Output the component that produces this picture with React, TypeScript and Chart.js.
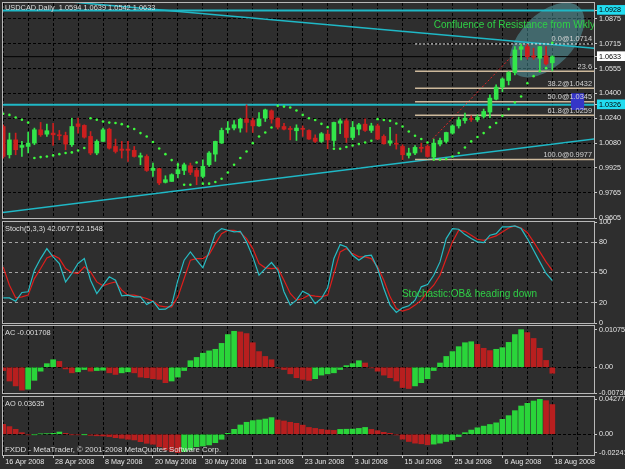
import React, { useEffect, useRef } from 'react';
import { Chart, registerables } from 'chart.js';

Chart.register(...registerables);

const W = 625;
const H = 469;

// ---------------- data ----------------
const DATE_LABELS = ['16 Apr 2008', '28 Apr 2008', '8 May 2008', '20 May 2008', '30 May 2008', '11 Jun 2008', '23 Jun 2008', '3 Jul 2008', '15 Jul 2008', '25 Jul 2008', '6 Aug 2008', '18 Aug 2008'];
const BARS_PER_DATE_LABEL = 8;
const BARS_PER_GRID = 4;

const OPEN = [1.0188, 1.0008, 1.0103, 1.0055, 1.0061, 1.0082, 1.0167, 1.0139, 1.0146, 1.0135,
  1.0131, 1.0072, 1.0205, 1.0195, 1.0125, 1.0019, 1.0093, 1.0171, 1.0061, 1.0044,
  1.0044, 1.0036, 0.9993, 0.9997, 0.9908, 0.9919, 0.9832, 0.9838, 0.9887, 0.9908,
  0.9938, 0.9908, 0.9870, 0.9944, 1.0012, 1.0082, 1.0167, 1.0178, 1.0178, 1.0237,
  1.0226, 1.0192, 1.0241, 1.0288, 1.0241, 1.0188, 1.0173, 1.0161, 1.0173, 1.0163,
  1.0114, 1.0093, 1.0139, 1.0099, 1.0209, 1.0224, 1.0118, 1.0171, 1.0203, 1.0163,
  1.0192, 1.0125, 1.0082, 1.0078, 1.0061, 1.0004, 1.0019, 1.0052, 1.0061, 0.9993,
  1.0076, 1.0093, 1.0146, 1.0192, 1.0226, 1.0237, 1.0231, 1.0252, 1.0280, 1.0362,
  1.0439, 1.0481, 1.0532, 1.0680, 1.0697, 1.0638, 1.0623, 1.0638, 1.0594];
const HIGH = [1.0199, 1.0146, 1.0146, 1.0093, 1.0152, 1.0178, 1.0214, 1.0203, 1.0209, 1.0163,
  1.0152, 1.0241, 1.0241, 1.0199, 1.0156, 1.0103, 1.0178, 1.0178, 1.0108, 1.0093,
  1.0093, 1.0061, 1.0019, 1.0008, 0.9955, 0.9923, 0.9874, 0.9887, 0.9955, 0.9955,
  0.9955, 0.9923, 0.9976, 1.0029, 1.0095, 1.0178, 1.0220, 1.0226, 1.0241, 1.0326,
  1.0241, 1.0277, 1.0299, 1.0294, 1.0243, 1.0209, 1.0188, 1.0199, 1.0192, 1.0167,
  1.0135, 1.0150, 1.0167, 1.0216, 1.0237, 1.0237, 1.0220, 1.0209, 1.0237, 1.0209,
  1.0205, 1.0135, 1.0182, 1.0139, 1.0072, 1.0050, 1.0067, 1.0082, 1.0072, 1.0108,
  1.0114, 1.0152, 1.0199, 1.0248, 1.0273, 1.0256, 1.0262, 1.0299, 1.0390, 1.0453,
  1.0498, 1.0538, 1.0697, 1.0714, 1.0712, 1.0687, 1.0699, 1.0697, 1.0639];
const LOW = [0.9987, 0.9987, 1.0008, 0.9997, 1.0019, 1.0072, 1.0125, 1.0125, 1.0067, 1.0103,
  1.0040, 1.0061, 1.0146, 1.0114, 1.0008, 1.0008, 1.0093, 1.0044, 1.0019, 0.9987,
  0.9966, 0.9993, 0.9944, 0.9902, 0.9870, 0.9817, 0.9828, 0.9838, 0.9860, 0.9881,
  0.9881, 0.9817, 0.9860, 0.9934, 0.9966, 1.0080, 1.0146, 1.0167, 1.0152, 1.0152,
  1.0150, 1.0188, 1.0220, 1.0209, 1.0171, 1.0167, 1.0103, 1.0099, 1.0125, 1.0106,
  1.0086, 1.0086, 1.0046, 1.0061, 1.0142, 1.0086, 1.0103, 1.0135, 1.0156, 1.0150,
  1.0103, 1.0076, 1.0067, 1.0044, 0.9977, 0.9987, 1.0008, 1.0025, 0.9993, 0.9980,
  1.0065, 1.0082, 1.0139, 1.0178, 1.0209, 1.0220, 1.0220, 1.0241, 1.0243, 1.0358,
  1.0410, 1.0453, 1.0517, 1.0612, 1.0617, 1.0617, 1.0549, 1.0581, 1.0542];
const CLOSE = [0.9997, 1.0103, 1.0040, 1.0067, 1.0082, 1.0167, 1.0135, 1.0161, 1.0135, 1.0129,
  1.0076, 1.0188, 1.0188, 1.0120, 1.0019, 1.0093, 1.0167, 1.0050, 1.0029, 1.0036,
  1.0036, 0.9997, 1.0002, 0.9908, 0.9923, 0.9828, 0.9849, 0.9881, 0.9913, 0.9944,
  0.9896, 0.9870, 0.9934, 1.0019, 1.0093, 1.0163, 1.0178, 1.0199, 1.0235, 1.0214,
  1.0192, 1.0237, 1.0294, 1.0235, 1.0184, 1.0171, 1.0169, 1.0178, 1.0170, 1.0108,
  1.0093, 1.0142, 1.0103, 1.0214, 1.0224, 1.0118, 1.0182, 1.0199, 1.0163, 1.0192,
  1.0108, 1.0078, 1.0097, 1.0075, 1.0008, 1.0019, 1.0055, 1.0049, 0.9997, 1.0082,
  1.0099, 1.0150, 1.0192, 1.0231, 1.0241, 1.0233, 1.0248, 1.0284, 1.0369, 1.0439,
  1.0491, 1.0532, 1.0676, 1.0697, 1.0633, 1.0630, 1.0697, 1.0587, 1.0633];
const SAR = [1.0269, 1.0262, 1.0245, 1.0231, 1.0213, 0.9987, 0.9993, 0.9997, 1.0004, 1.0012,
  1.0019, 1.0023, 1.0035, 1.0051, 1.0241, 1.0231, 1.0220, 1.0213, 1.0210, 1.0203,
  1.0188, 1.0172, 1.0146, 1.0124, 1.0089, 1.0048, 1.0012, 0.9974, 0.9944, 0.9817,
  0.9817, 0.9959, 0.9824, 0.9824, 0.9834, 0.9855, 0.9895, 0.9944, 0.9987, 1.0029,
  1.0082, 1.0124, 1.0150, 1.0182, 1.0320, 1.0315, 1.0309, 1.0290, 1.0262, 1.0241,
  1.0229, 1.0205, 1.0184, 1.0046, 1.0046, 1.0057, 1.0067, 1.0076, 1.0086, 1.0097,
  1.0235, 1.0229, 1.0224, 1.0207, 1.0188, 1.0156, 1.0129, 1.0108, 1.0086, 0.9977,
  0.9977, 0.9981, 0.9997, 1.0019, 1.0054, 1.0093, 1.0121, 1.0146, 1.0184, 1.0210,
  1.0256, 1.0299, 1.0341, 1.0379, 1.0464, 1.0509, 1.0540, 1.0560, 1.0722];
const STOCH_MAIN = [24.9, 24.9, 21.6, 30.2, 30.9, 52.3, 63.8, 73.7, 65.5, 58.9,
  40.7, 49.0, 58.9, 63.8, 42.4, 29.2, 37.4, 45.7, 42.4, 26.9,
  27.6, 25.9, 25.9, 18.3, 21.6, 13.4, 13.7, 17.7, 42.4, 62.2,
  70.4, 62.2, 54.6, 70.4, 88.5, 93.5, 91.8, 90.2, 90.8, 80.3,
  65.5, 47.3, 53.9, 59.9, 52.3, 30.9, 17.7, 22.6, 31.5, 28.2,
  19.3, 24.3, 34.8, 63.8, 77.6, 75.3, 67.1, 62.2, 66.4, 67.1,
  53.9, 34.1, 17.7, 10.4, 15.0, 17.0, 22.6, 35.8, 38.1, 47.3,
  60.5, 83.6, 93.5, 92.8, 87.5, 83.6, 80.3, 79.6, 86.9, 88.5,
  95.1, 95.1, 96.1, 93.5, 83.6, 72.0, 60.5, 49.0, 42.0677];
const STOCH_SIGNAL = [55.6, 37.4, 24.9, 25.9, 27.6, 44.0, 53.9, 64.5, 67.1, 63.8,
  53.9, 50.0, 49.0, 55.6, 50.6, 40.7, 36.8, 39.1, 40.7, 32.5,
  27.6, 27.6, 25.9, 24.3, 21.6, 17.0, 16.0, 16.0, 25.9, 44.0,
  62.2, 63.8, 63.8, 67.8, 78.6, 88.5, 91.8, 91.8, 89.5, 83.6,
  73.7, 58.9, 54.6, 53.9, 54.6, 42.4, 29.2, 22.6, 24.3, 27.6,
  26.6, 25.9, 27.6, 49.0, 70.4, 73.7, 68.7, 65.5, 65.5, 63.8,
  55.6, 42.4, 25.9, 14.4, 11.7, 13.7, 17.7, 22.6, 30.9, 37.4,
  47.3, 63.8, 80.3, 91.8, 90.8, 86.9, 82.9, 81.9, 84.2, 86.2,
  90.2, 94.1, 96.1, 94.1, 89.5, 80.3, 70.4, 60.5, 52.1548];
const AC = [-0.00094, -0.00393, -0.00533, -0.00655, -0.00627, -0.00374, -0.00112, 0.00103, 0.00215, 0.00168,
  -0.00047, -0.00159, -0.00131, -0.00065, -0.00112, -0.00094, -0.00084, -0.00159, -0.00206, -0.00159,
  -0.00131, -0.00159, -0.00281, -0.00299, -0.00327, -0.00346, -0.0044, -0.00393, -0.00281, -0.00094,
  0.00187, 0.00281, 0.00402, 0.00468, 0.00514, 0.00683, 0.00935, 0.01029, 0.0101, 0.00963,
  0.00702, 0.00449, 0.00309, 0.00215, -0.00019, -0.00065, -0.00187, -0.00299, -0.00346, -0.00374,
  -0.00327, -0.00224, -0.00187, -0.00159, -0.00065, 0.00047, 0.00103, 0.00187, 0.00122, -0.00019,
  -0.00112, -0.00224, -0.00299, -0.00393, -0.0058, -0.00608, -0.00533, -0.0044, -0.00327, -0.00094,
  0.00122, 0.00309, 0.00449, 0.00589, 0.00702, 0.0073, 0.00655, 0.00543, 0.00477, 0.00514,
  0.00561, 0.00711, 0.00935, 0.010755, 0.00992, 0.00823, 0.00543, 0.00196, -0.001708];
const AO = [0.0122, 0.0094, 0.0061, 0.002, -0.0006, -0.0004, 0.0004, 0.0008, 0.0012, 0.0028,
  0.0012, -0.0004, -0.0006, -0.0002, -0.0012, -0.0018, -0.002, -0.0028, -0.0041, -0.0049,
  -0.0061, -0.0069, -0.009, -0.011, -0.0122, -0.0151, -0.0192, -0.0212, -0.02241, -0.0212,
  -0.0192, -0.0151, -0.0143, -0.013, -0.0102, -0.0061, 0.0012, 0.0061, 0.0114, 0.0147,
  0.0167, 0.0175, 0.0187, 0.0204, 0.0175, 0.0163, 0.0147, 0.0134, 0.0112, 0.0084,
  0.0072, 0.006, 0.0052, 0.0048, 0.006, 0.0062, 0.0064, 0.0072, 0.0084, 0.006,
  0.0044, 0.0024, 0.0012, -0.0008, -0.006, -0.0088, -0.0108, -0.0116, -0.0128, -0.012,
  -0.0108, -0.0088, -0.0068, -0.0028, 0.002, 0.0052, 0.008, 0.01, 0.012, 0.014,
  0.0183, 0.0228, 0.0289, 0.0346, 0.0379, 0.0407, 0.04277, 0.0411, 0.03635];

const MAIN_TICKS = [1.0875, 1.0715, 1.0555, 1.04, 1.024, 1.008, 0.9925, 0.9765, 0.9605];
const CYAN_LEVELS = [1.0928, 1.0326];
const LAST_PRICE = CLOSE[CLOSE.length - 1];
const FIB_LEVELS = [1.0714, 1.054, 1.0432, 1.0345, 1.0259, 0.9977];
const FIB_LABELS = ['0.0@1.0714', '23.6', '38.2@1.0432', '50.0@1.0345', '61.8@1.0259', '100.0@0.9977'];
const FIB_START = 66;
const TREND_DOWN = [[11, 1.0981], [94.7, 1.0687]];
const TREND_UP = [[-0.5, 0.9637], [94.7, 1.0108]];
const FIB_TREND = [[68.8, 1.0108], [83.5, 1.0719]];
const HILITE = { x: 87.15, y: 1.0739, rx: 46, ry: 26, angle: -Math.PI / 4 };
const BLUE_BOX = { x0: 91.0, x1: 93.1, y0: 1.0294, y1: 1.04 };
const NOTE_MAIN = 'Confluence of Resistance from Wkly';
const NOTE_MAIN_AT = [69.0, 1.0835];
const NOTE_STOCH = 'Stochastic:OB& heading down';
const NOTE_STOCH_AT = [63.9, 28.7];

const STOCH_TICKS = [100, 80, 50, 20, 0];
const STOCH_LEVELS = [80, 50, 20];
const AC_TICKS = [0.010755, 0, -0.00736];
const AC_TICK_LABELS = ['0.010755', '0.00', '-0.00736'];
const AO_TICKS = [0.04277, 0, -0.02241];
const AO_TICK_LABELS = ['0.04277', '0.00', '-0.02241'];

// ---------------- layout / style ----------------
const X_MIN = -0.03;
const X_MAX = 94.68;
const PANEL_MAIN = { top: 3, bottom: 218, min: 0.9605, max: 1.0975 };
const PANEL_STOCH = { top: 222, bottom: 323, min: 0, max: 100 };
const PANEL_AC = { top: 326, bottom: 393, min: -0.00736, max: 0.0118 };
const PANEL_AO = { top: 397, bottom: 455, min: -0.0253, max: 0.0456 };
const AXIS_W = 31;
const XLABEL_H = 14;

const FONT = "'Liberation Sans', Arial, Helvetica, sans-serif";
const BG = '#2e2e2e';
const FRAME = '#b8b8b8';
const TICK_MARK = '#c8c8c8';
const AXIS_TEXT = '#e6e6e6';
const TITLE_TEXT = '#dedede';
const GRID_DARK = '#000000';
const BULL = '#33e64a';
const BEAR = '#cc1f1f';
const SAR_COLOR = '#3dfa3d';
const CYAN = '#1fb8c6';
const CYAN_BOX = '#22dcf0';
const FIB_COLOR = '#cdb99c';
const FIB_TEXT = '#d4d4d4';
const NOTE_GREEN = '#2fd046';
const STOCH_CYAN = '#27bcc4';
const STOCH_RED = '#e01e1c';
const OSC_UP = '#2ad53a';
const OSC_DN = '#b81f1f';
const HILITE_FILL = 'rgba(100, 200, 210, 0.38)';
const BLUE = '#3535c8';
const TRANSPARENT = 'rgba(0,0,0,0)';

const IDX = OPEN.map((_, i) => i);
const GRID_TICKS = Array.from({ length: Math.floor(X_MAX / BARS_PER_GRID) + 1 }, (_, k) => k * BARS_PER_GRID);

function dateLabelFor(v: number) {
  const k = Math.round(v);
  if (k % BARS_PER_DATE_LABEL !== 0) return '';
  return DATE_LABELS[k / BARS_PER_DATE_LABEL] ?? '';
}
const near = (a: number, b: number) => Math.abs(a - b) < 1e-9;

function xAxis(showDates: boolean) {
  return {
    type: 'linear',
    position: 'bottom',
    min: X_MIN,
    max: X_MAX,
    offset: false,
    afterBuildTicks: (s: any) => { s.ticks = GRID_TICKS.map((value) => ({ value })); },
    afterFit: (s: any) => { s.height = showDates ? XLABEL_H : 0; s.paddingLeft = 0; s.paddingRight = 0; },
    grid: {
      offset: false, color: GRID_DARK, lineWidth: 1, drawTicks: showDates, tickLength: 3, tickWidth: 1,
      borderDash: [3, 2],
      tickColor: (c: any) => (dateLabelFor(c.tick ? c.tick.value : -1) ? TICK_MARK : TRANSPARENT),
    },
    border: { display: false, dash: [3, 2] },
    ticks: {
      display: showDates, autoSkip: false, maxRotation: 0, minRotation: 0, align: 'start', labelOffset: 2, padding: 0,
      color: AXIS_TEXT, font: { family: FONT, size: 7.2 }, callback: (v: number) => dateLabelFor(v),
    },
  };
}

function yAxis(p: any, ticks: number[], label: (v: number) => string, gridColor: any, dash: number[], marker?: (v: number) => string | null) {
  return {
    type: 'linear',
    position: 'right',
    min: p.min,
    max: p.max,
    beginAtZero: false,
    afterBuildTicks: (s: any) => { s.ticks = [...ticks].sort((a, b) => a - b).map((value) => ({ value })); },
    afterFit: (s: any) => { s.width = AXIS_W; s.paddingTop = 0; s.paddingBottom = 0; },
    grid: { color: gridColor, lineWidth: 1, drawTicks: true, tickLength: 3, tickWidth: 1, tickColor: TICK_MARK, borderDash: dash },
    border: { display: false, dash },
    ticks: {
      autoSkip: false, padding: 2, font: { family: FONT, size: 7.2 },
      color: (c: any) => (marker && c.tick && marker(c.tick.value) ? '#000000' : AXIS_TEXT),
      callback: (v: number) => label(v),
      showLabelBackdrop: (c: any) => !!(marker && c.tick && marker(c.tick.value)),
      backdropColor: (c: any) => (marker && c.tick && marker(c.tick.value)) || TRANSPARENT,
      backdropPadding: { left: 2, right: 4, top: 1, bottom: 0 },
    },
  };
}

function baseOptions(p: any, showDates: boolean, y: any) {
  return {
    responsive: false,
    animation: false,
    devicePixelRatio: 1,
    events: [],
    layout: { autoPadding: false, padding: { left: 3, right: 0, top: p.top, bottom: H - p.bottom - (showDates ? XLABEL_H : 0) } },
    plugins: { legend: { display: false }, tooltip: { enabled: false } },
    scales: { x: xAxis(showDates), y },
  };
}

function framePlugin(title: string, titleDy: number, extra?: (chart: any) => void) {
  return {
    id: 'frameAndTitle',
    afterDraw(chart: any) {
      const { ctx, chartArea: a } = chart;
      ctx.save();
      ctx.strokeStyle = FRAME;
      ctx.lineWidth = 1;
      ctx.strokeRect(a.left - 0.5, a.top - 0.5, a.right - a.left + 1, a.bottom - a.top + 1);
      ctx.fillStyle = TITLE_TEXT;
      ctx.font = `7.4px ${FONT}`;
      ctx.textAlign = 'left';
      ctx.textBaseline = 'middle';
      ctx.fillText(title, a.left + 2, a.top + titleDy);
      if (extra) extra(chart);
      ctx.restore();
    },
  };
}

function clipArea(ctx: any, a: any) {
  ctx.beginPath();
  ctx.rect(a.left, a.top, a.right - a.left, a.bottom - a.top);
  ctx.clip();
}

const lineDs = (pts: number[][], color: string, width: number, dash: number[], order: number) => ({
  type: 'line',
  data: pts.map(([x, y]) => ({ x, y })),
  borderColor: color,
  borderWidth: width,
  borderDash: dash,
  pointRadius: 0,
  fill: false,
  tension: 0,
  order,
});

const mainOverlay = {
  id: 'mainOverlay',
  beforeDatasetsDraw(chart: any) {
    const { ctx, chartArea: a, scales } = chart;
    ctx.save();
    clipArea(ctx, a);
    ctx.beginPath();
    ctx.ellipse(scales.x.getPixelForValue(HILITE.x), scales.y.getPixelForValue(HILITE.y), HILITE.rx, HILITE.ry, HILITE.angle, 0, Math.PI * 2);
    ctx.fillStyle = HILITE_FILL;
    ctx.fill();
    ctx.restore();
  },
  afterDatasetsDraw(chart: any) {
    const { ctx, chartArea: a, scales } = chart;
    const x = scales.x;
    const y = scales.y;
    ctx.save();
    clipArea(ctx, a);
    const bx0 = x.getPixelForValue(BLUE_BOX.x0);
    const bx1 = x.getPixelForValue(BLUE_BOX.x1);
    const by0 = y.getPixelForValue(BLUE_BOX.y1);
    const by1 = y.getPixelForValue(BLUE_BOX.y0);
    ctx.fillStyle = BLUE;
    ctx.fillRect(bx0, by0, bx1 - bx0, by1 - by0);
    ctx.font = `7.4px ${FONT}`;
    ctx.fillStyle = FIB_TEXT;
    ctx.textAlign = 'right';
    ctx.textBaseline = 'bottom';
    FIB_LEVELS.forEach((v, i) => ctx.fillText(FIB_LABELS[i], a.right - 2, y.getPixelForValue(v) - 1));
    ctx.font = `10px ${FONT}`;
    ctx.fillStyle = NOTE_GREEN;
    ctx.textAlign = 'left';
    ctx.textBaseline = 'middle';
    ctx.fillText(NOTE_MAIN, x.getPixelForValue(NOTE_MAIN_AT[0]), y.getPixelForValue(NOTE_MAIN_AT[1]));
    ctx.restore();
  },
};

function mainConfig(): any {
  const candleColor = (c: any) => (CLOSE[c.dataIndex] >= OPEN[c.dataIndex] ? BULL : BEAR);
  const marker = (v: number) => (near(v, LAST_PRICE) ? '#ffffff' : CYAN_LEVELS.some((m) => near(m, v)) ? CYAN_BOX : null);
  const allTicks = [...MAIN_TICKS, ...CYAN_LEVELS, LAST_PRICE];
  const last = OPEN.length - 1;
  const title = `USDCAD,Daily  ${OPEN[last].toFixed(4)} ${HIGH[last].toFixed(4)} ${LOW[last].toFixed(4)} ${CLOSE[last].toFixed(4)}`;
  return {
    type: 'bar',
    data: {
      datasets: [
        { type: 'line', data: SAR.map((v, i) => ({ x: i, y: v })), showLine: false, pointRadius: 1.3, pointBackgroundColor: SAR_COLOR, pointBorderWidth: 0, pointBorderColor: SAR_COLOR, order: 0 },
        { type: 'bar', data: IDX.map((i) => ({ x: i, y: [OPEN[i], CLOSE[i]] })), backgroundColor: candleColor, barThickness: 4, grouped: false, minBarLength: 1, borderWidth: 0, order: 1 },
        { type: 'bar', data: IDX.map((i) => ({ x: i, y: [LOW[i], HIGH[i]] })), backgroundColor: candleColor, barThickness: 1, grouped: false, borderWidth: 0, order: 2 },
        ...FIB_LEVELS.map((v, i) => lineDs([[FIB_START, v], [X_MAX, v]], i === 0 ? '#f0f0f0' : FIB_COLOR, i === 0 ? 1 : 1.5, i === 0 ? [2, 2] : [], 5)),
        lineDs(FIB_TREND, '#e02828', 1, [2, 2], 6),
        lineDs(TREND_DOWN, CYAN, 1.5, [], 7),
        lineDs(TREND_UP, CYAN, 1.5, [], 7),
        lineDs([[X_MIN, LAST_PRICE], [X_MAX, LAST_PRICE]], '#000000', 1, [], 8),
        ...CYAN_LEVELS.map((v) => lineDs([[X_MIN, v], [X_MAX, v]], CYAN, 2, [], 9)),
      ],
    },
    options: baseOptions(
      PANEL_MAIN,
      false,
      yAxis(PANEL_MAIN, allTicks, (v) => Number(v).toFixed(4), (c: any) => (c.tick && marker(c.tick.value) ? TRANSPARENT : GRID_DARK), [3, 2], marker),
    ),
    plugins: [mainOverlay, framePlugin(title, 5)],
  };
}

function stochConfig(): any {
  const title = `Stoch(5,3,3) ${STOCH_MAIN[STOCH_MAIN.length - 1].toFixed(4)} ${STOCH_SIGNAL[STOCH_SIGNAL.length - 1].toFixed(4)}`;
  const note = (chart: any) => {
    const { ctx, scales } = chart;
    ctx.font = `10px ${FONT}`;
    ctx.fillStyle = NOTE_GREEN;
    ctx.textAlign = 'left';
    ctx.textBaseline = 'middle';
    ctx.fillText(NOTE_STOCH, scales.x.getPixelForValue(NOTE_STOCH_AT[0]), scales.y.getPixelForValue(NOTE_STOCH_AT[1]));
  };
  return {
    type: 'line',
    data: {
      datasets: [
        { data: STOCH_MAIN.map((v, i) => ({ x: i, y: v })), borderColor: STOCH_CYAN, borderWidth: 1.2, pointRadius: 0, tension: 0, fill: false, order: 0 },
        { data: STOCH_SIGNAL.map((v, i) => ({ x: i, y: v })), borderColor: STOCH_RED, borderWidth: 1.2, pointRadius: 0, tension: 0, fill: false, order: 1 },
      ],
    },
    options: baseOptions(
      PANEL_STOCH,
      false,
      yAxis(PANEL_STOCH, STOCH_TICKS, (v) => String(v), (c: any) => (c.tick && STOCH_LEVELS.includes(c.tick.value) ? '#a4a4a4' : TRANSPARENT), [3, 3]),
    ),
    plugins: [framePlugin(title, 7, note)],
  };
}

function oscConfig(values: number[], panel: any, ticks: number[], tickLabels: string[], title: string, showDates: boolean, extra?: (chart: any) => void): any {
  const colors = values.map((v, i) => (i > 0 && v > values[i - 1] ? OSC_UP : OSC_DN));
  const label = (v: number) => {
    const k = ticks.findIndex((t) => near(t, v));
    return k >= 0 ? tickLabels[k] : '';
  };
  return {
    type: 'bar',
    data: {
      datasets: [
        { data: values.map((v, i) => ({ x: i, y: v })), backgroundColor: colors, barThickness: 5, grouped: false, borderWidth: 0 },
      ],
    },
    options: baseOptions(
      panel,
      showDates,
      yAxis(panel, ticks, label, (c: any) => (c.tick && near(c.tick.value, 0) ? GRID_DARK : TRANSPARENT), [3, 2]),
    ),
    plugins: [framePlugin(title, 7, extra)],
  };
}

const COPYRIGHT = 'FXDD - MetaTrader, \u00a9 2001-2008 MetaQuotes Software Corp.';

export default function App() {
  const mainRef = useRef<HTMLCanvasElement | null>(null);
  const stochRef = useRef<HTMLCanvasElement | null>(null);
  const acRef = useRef<HTMLCanvasElement | null>(null);
  const aoRef = useRef<HTMLCanvasElement | null>(null);

  useEffect(() => {
    const copyright = (chart: any) => {
      const { ctx, chartArea: a } = chart;
      ctx.font = `7.8px ${FONT}`;
      ctx.fillStyle = TITLE_TEXT;
      ctx.textAlign = 'left';
      ctx.textBaseline = 'middle';
      ctx.fillText(COPYRIGHT, a.left + 2, a.bottom - 5);
    };
    const charts = [
      new Chart(mainRef.current as any, mainConfig()),
      new Chart(stochRef.current as any, stochConfig()),
      new Chart(acRef.current as any, oscConfig(AC, PANEL_AC, AC_TICKS, AC_TICK_LABELS, `AC ${AC[AC.length - 1].toFixed(6)}`, false)),
      new Chart(aoRef.current as any, oscConfig(AO, PANEL_AO, AO_TICKS, AO_TICK_LABELS, `AO ${AO[AO.length - 1].toFixed(5)}`, true, copyright)),
    ];
    return () => charts.forEach((c) => c.destroy());
  }, []);

  const canvasStyle: React.CSSProperties = { position: 'absolute', left: 0, top: 0, width: W, height: H };
  return (
    <div style={{ position: 'fixed', left: 0, top: 0, width: W, height: H, background: BG, overflow: 'hidden' }}>
      <canvas ref={mainRef} width={W} height={H} style={canvasStyle} />
      <canvas ref={stochRef} width={W} height={H} style={canvasStyle} />
      <canvas ref={acRef} width={W} height={H} style={canvasStyle} />
      <canvas ref={aoRef} width={W} height={H} style={canvasStyle} />
    </div>
  );
}
